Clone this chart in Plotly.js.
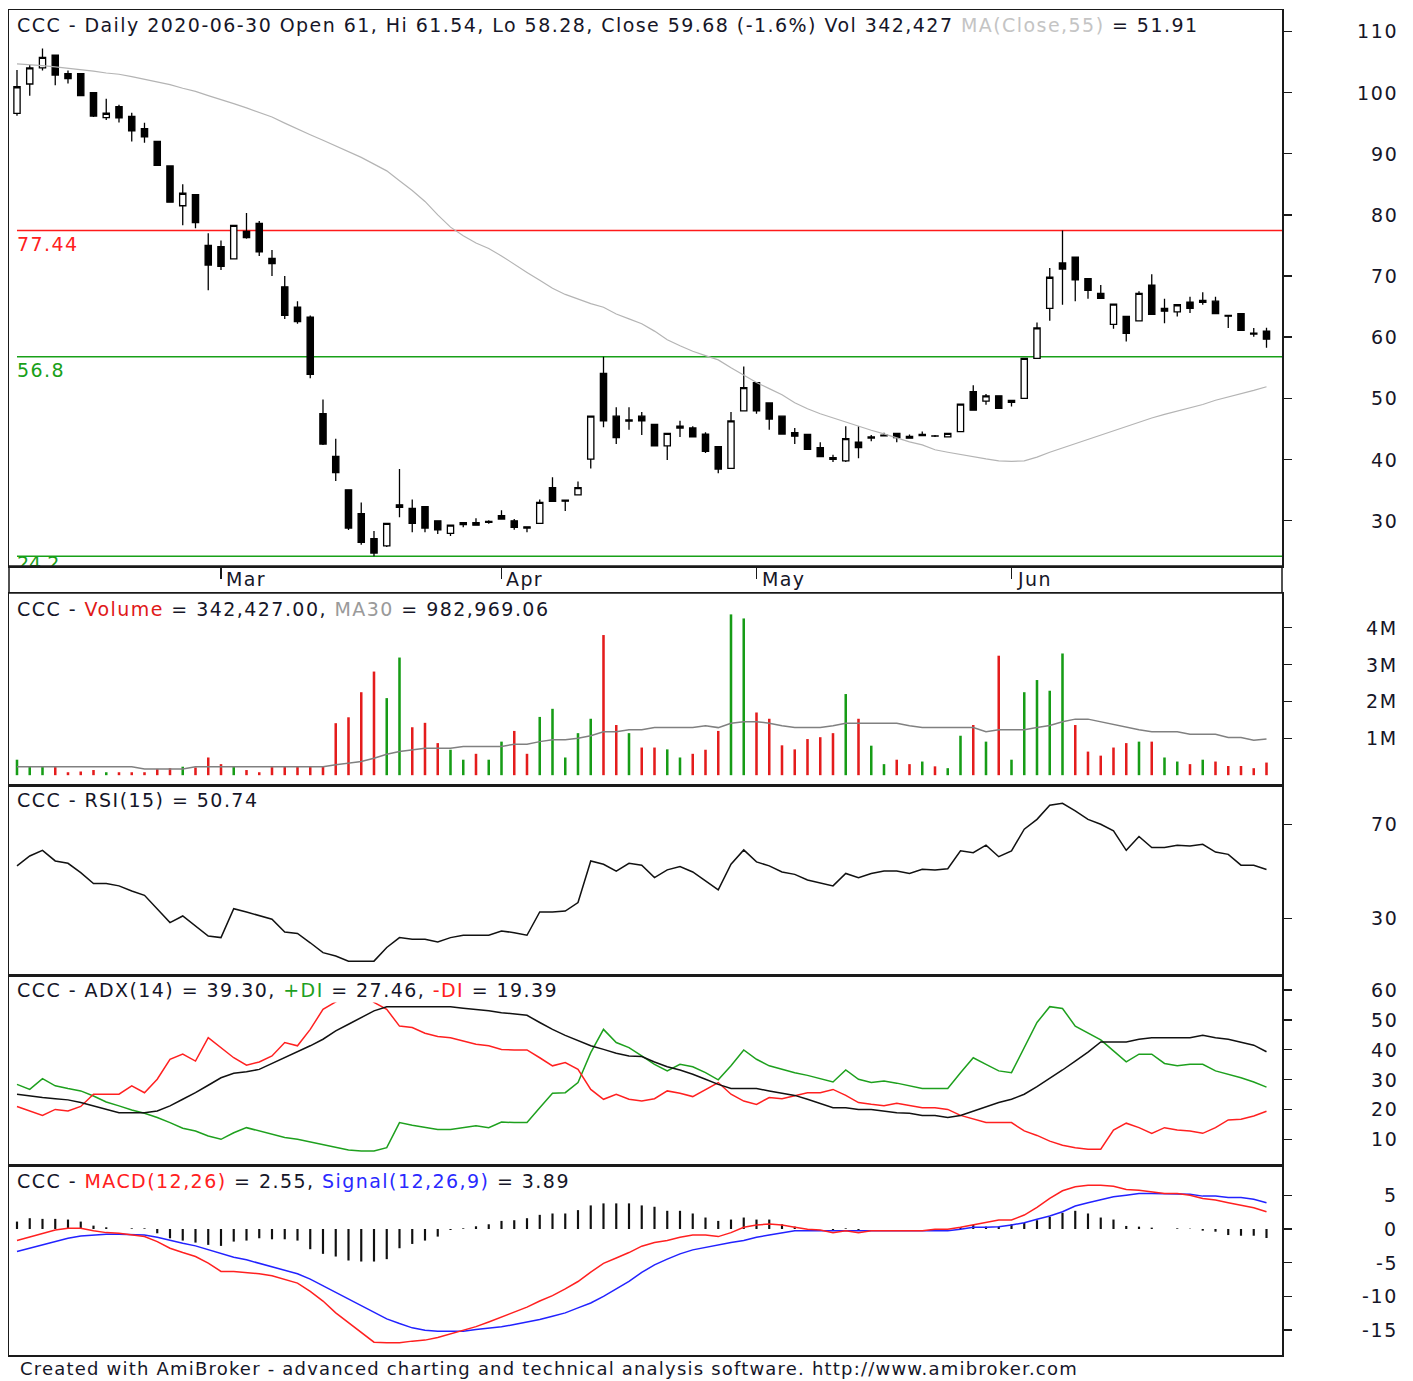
<!DOCTYPE html>
<html><head><meta charset="utf-8">
<script src="https://cdn.plot.ly/plotly-3.0.1.min.js"></script>
<style>html,body{margin:0;padding:0;background:#fff;overflow:hidden}#chart{width:1413px;height:1381px}</style>
</head><body><div id="chart"></div>
<script>
// ---------- DATA ----------
const dates = [
 '2020-02-07','2020-02-10','2020-02-11','2020-02-12','2020-02-13','2020-02-14','2020-02-17','2020-02-18','2020-02-19','2020-02-20',
 '2020-02-21','2020-02-24','2020-02-25','2020-02-26','2020-02-27','2020-02-28','2020-03-02','2020-03-03','2020-03-04','2020-03-05',
 '2020-03-06','2020-03-09','2020-03-10','2020-03-11','2020-03-12','2020-03-13','2020-03-16','2020-03-17','2020-03-18','2020-03-19',
 '2020-03-20','2020-03-23','2020-03-24','2020-03-25','2020-03-26','2020-03-27','2020-03-30','2020-03-31','2020-04-01','2020-04-02',
 '2020-04-03','2020-04-06','2020-04-07','2020-04-08','2020-04-09','2020-04-14','2020-04-15','2020-04-16','2020-04-17','2020-04-20',
 '2020-04-21','2020-04-22','2020-04-23','2020-04-24','2020-04-27','2020-04-28','2020-04-29','2020-04-30','2020-05-04','2020-05-05',
 '2020-05-06','2020-05-07','2020-05-08','2020-05-11','2020-05-12','2020-05-13','2020-05-14','2020-05-15','2020-05-18','2020-05-19',
 '2020-05-20','2020-05-21','2020-05-22','2020-05-25','2020-05-26','2020-05-27','2020-05-28','2020-05-29','2020-06-01','2020-06-02',
 '2020-06-03','2020-06-04','2020-06-05','2020-06-08','2020-06-09','2020-06-10','2020-06-12','2020-06-15','2020-06-16','2020-06-17',
 '2020-06-18','2020-06-19','2020-06-22','2020-06-23','2020-06-24','2020-06-25','2020-06-26','2020-06-29','2020-06-30'];

const open = [96.6,101.4,104.04,106.1,103.1,103.1,100.0,95.9,97.7,96.1,
 94.1,92.0,88.0,81.5,83.3,75.0,74.8,72.8,77.3,78.6,
 72.9,68.24,64.9,63.27,47.5,40.5,35.06,31.14,27.06,25.89,
 32.6,32.02,32.31,29.98,27.94,29.69,29.69,29.75,30.85,29.98,
 29.0,29.57,35.41,33.35,34.24,40.08,54.1,47.09,46.3,47.09,
 45.75,42.24,45.46,45.16,44.17,42.12,38.56,47.97,52.58,49.25,
 47.09,44.4,44.11,41.95,40.32,39.79,42.83,43.7,44.0,44.29,
 43.8,44.11,43.82,43.7,44.58,51.12,49.55,50.42,49.66,50.01,
 56.56,64.73,72.15,73.08,69.58,67.18,62.1,63.39,62.69,68.53,
 64.73,64.15,65.72,66.02,65.9,63.56,63.86,60.5,61];
const high = [103.7,104.5,107.2,106.2,103.6,103.2,100.1,99.0,98.0,96.7,
 95.05,92.1,88.05,85.0,83.4,77.0,75.8,78.3,80.3,79.0,
 74.25,70.0,65.9,63.56,49.84,43.4,35.1,33.0,28.34,29.6,
 38.45,33.48,32.4,30.0,29.3,29.75,30.39,30.1,31.73,30.27,
 29.1,33.48,37.1,33.4,36.4,47.1,56.8,48.55,48.55,47.79,
 45.8,44.3,46.33,45.46,44.46,42.2,47.79,55.21,52.7,49.3,
 47.1,45.16,44.2,42.83,40.78,45.46,45.46,44.0,44.4,44.3,
 44.11,44.58,44.0,44.3,49.1,52.17,50.71,50.5,49.7,56.6,
 62.4,71.33,77.44,73.1,69.6,68.53,65.5,63.4,67.5,70.28,
 66.31,65.35,66.6,67.36,66.6,63.6,63.9,61.52,61.54];
const low = [96.2,99.5,103.6,101.2,101.5,99.4,96.0,95.5,95.1,92.0,
 91.8,88.0,82.0,78.3,77.8,67.7,71.0,72.7,76.1,73.3,
 70.0,63.0,62.2,53.3,42.4,36.5,28.5,26.06,24.2,25.7,
 30.56,28.11,28.11,27.82,27.52,28.93,29.2,29.5,30.2,28.52,
 28.11,29.5,33.1,31.61,34.2,38.56,45.28,42.54,44.87,44.0,
 42.2,39.91,43.7,43.6,41.07,37.75,38.5,47.9,47.5,44.87,
 44.1,42.54,41.6,40.4,39.61,39.61,40.2,43.0,43.8,42.83,
 43.4,43.8,43.7,43.6,44.5,48.0,48.96,48.3,48.67,49.9,
 56.5,62.69,65.31,65.9,66.31,66.3,61.4,59.3,62.6,63.7,
 62.28,63.39,63.97,65.31,63.8,61.52,61.0,60.06,58.28];
const close = [100.95,104.04,105.74,102.87,102.29,99.49,96.16,96.62,95.86,93.76,
 92.77,88.1,82.08,83.54,78.75,71.8,71.6,78.28,76.3,73.96,
 72.03,63.56,62.57,53.93,42.54,37.86,28.81,26.47,24.72,29.57,
 32.2,29.57,28.81,28.52,29.28,29.35,29.28,29.9,30.27,28.9,
 28.8,33.01,33.15,33.2,35.41,47.09,46.33,43.59,46.5,46.33,
 42.24,44.29,45.16,43.7,41.36,38.45,46.33,51.76,47.97,46.62,
 44.17,43.82,41.66,40.49,40.02,43.41,41.95,43.53,43.88,43.59,
 43.5,43.9,43.85,44.29,49.08,48.08,50.42,48.38,49.37,56.56,
 61.52,69.81,71.16,69.4,67.65,66.37,65.43,60.64,67.18,63.74,
 64.26,65.31,64.73,65.72,63.86,63.45,61.11,60.65,59.68];
const ma55 = [104.7,104.6,104.4,104.2,104.0,103.8,103.5,103.2,103.0,102.6,
 102.2,101.8,101.3,100.7,100.2,99.5,98.9,98.2,97.5,96.8,
 96.0,95.0,94.0,93.1,92.2,91.3,90.4,89.4,88.3,87.2,
 85.6,84.0,82.2,80.0,78.0,76.6,75.4,74.5,73.3,71.9,
 70.6,69.3,68.0,67.0,66.2,65.5,64.9,63.8,63.0,62.2,
 61.0,59.6,58.6,57.7,57.0,56.3,55.0,53.8,52.6,51.6,
 50.6,49.3,48.3,47.5,46.8,46.2,45.5,44.8,44.2,43.5,
 42.9,42.4,41.6,41.2,40.8,40.5,40.1,39.8,39.7,39.8,
 40.4,41.2,41.9,42.7,43.4,44.1,44.8,45.5,46.1,46.8,
 47.4,47.9,48.4,49.0,49.7,50.2,50.8,51.3,51.91];
const levels = [77.44, 56.8, 24.2];
const levelLabels = ['77.44', '56.8', '24.2'];

const volume = [420000,230000,230000,220000,80000,100000,140000,80000,80000,80000,
 80000,170000,190000,230000,210000,480000,300000,230000,140000,80000,
 220000,230000,230000,230000,230000,1410000,1570000,2250000,2810000,2090000,
 3190000,1300000,1420000,870000,690000,420000,580000,420000,910000,1200000,
 580000,1580000,1800000,480000,1140000,1530000,3800000,1360000,1140000,750000,
 750000,700000,480000,580000,690000,1200000,4360000,4250000,1700000,1530000,
 810000,700000,980000,1030000,1140000,2200000,1530000,800000,300000,420000,
 300000,370000,240000,190000,1070000,1360000,910000,3240000,420000,2250000,
 2580000,2290000,3300000,1360000,640000,530000,750000,870000,910000,910000,
 480000,370000,300000,420000,370000,250000,250000,190000,342427];
const volMA30 = [230000,230000,230000,230000,230000,230000,230000,230000,230000,230000,
 170000,170000,170000,170000,230000,230000,230000,230000,230000,230000,
 230000,230000,230000,230000,230000,280000,330000,370000,460000,570000,
 640000,690000,730000,730000,730000,780000,780000,780000,780000,840000,
 840000,910000,960000,960000,1000000,1070000,1180000,1180000,1230000,1230000,
 1290000,1290000,1290000,1290000,1340000,1290000,1410000,1450000,1450000,1410000,
 1340000,1290000,1290000,1290000,1340000,1410000,1410000,1410000,1410000,1410000,
 1340000,1290000,1290000,1290000,1290000,1290000,1180000,1230000,1230000,1230000,
 1290000,1350000,1450000,1520000,1520000,1450000,1360000,1290000,1230000,1180000,
 1180000,1180000,1110000,1110000,1110000,1020000,1020000,950000,982969];

const rsi = [52.3,56.5,58.9,54.4,53.4,49.4,44.8,44.8,43.8,41.6,
 39.8,33.8,28.2,31.0,26.7,22.5,21.8,34.1,32.7,31.3,
 29.6,24.2,23.6,19.6,15.4,14.0,11.8,11.8,11.8,17.6,
 21.8,21.1,21.1,19.9,21.8,22.8,22.8,22.8,24.6,23.9,
 22.8,32.7,32.7,33.1,36.7,54.4,53.0,50.1,53.4,52.6,
 47.3,50.6,52.0,49.7,45.9,42.1,53.0,59.1,54.0,52.3,
 49.7,48.7,46.3,44.9,43.8,49.1,47.3,49.1,50.1,50.1,
 49.1,50.9,50.6,51.1,58.7,57.9,61.1,56.2,58.7,67.9,
 72.1,78.1,78.9,75.7,72.1,70.0,67.2,58.9,64.8,60.1,
 60.1,61.1,60.8,61.5,58.2,57.2,52.6,52.6,50.74];

const adx = [25.1,24.5,24.0,23.6,23.2,22.3,21.2,20.0,18.9,18.9,
 18.9,19.5,21.2,23.4,25.6,28.1,30.6,32.1,32.6,33.4,
 35.4,37.3,39.2,41.3,43.5,46.3,48.5,50.7,53.0,54.4,
 54.4,54.4,54.4,54.4,54.4,53.9,53.5,53.0,52.4,51.9,
 51.5,49.1,46.8,44.8,43.1,41.3,40.1,38.8,37.9,37.7,
 35.9,34.3,33.2,31.8,30.1,28.4,27.0,27.0,27.0,26.2,
 25.4,24.7,23.4,22.1,20.6,20.6,20.0,20.0,19.5,18.9,
 18.7,18.0,18.0,17.3,18.0,19.5,20.9,22.3,23.4,25.1,
 27.6,30.3,33.2,36.2,39.2,42.6,42.6,42.6,43.5,44.0,
 44.0,44.0,44.0,44.8,44.0,43.5,42.6,41.5,39.3];
const plusDI = [28.4,26.7,30.3,27.9,27.0,26.2,24.5,22.5,21.2,19.8,
 18.7,17.3,15.6,13.7,12.8,11.1,10.0,12.2,13.9,12.8,
 11.7,10.6,10.0,9.1,8.0,7.2,6.4,6.1,6.1,7.2,
 15.6,14.7,13.9,13.3,13.3,13.9,14.5,13.9,15.8,15.6,
 15.6,20.6,25.4,25.6,29.0,39.0,46.8,42.4,40.7,37.9,
 35.1,32.9,35.1,34.3,32.3,29.9,34.6,39.9,36.8,34.6,
 33.4,32.3,31.4,30.3,29.2,33.2,30.1,29.0,29.5,28.8,
 27.9,27.0,27.0,27.0,32.3,37.3,35.1,32.9,32.3,40.7,
 49.1,54.4,53.8,47.9,45.7,43.3,39.6,35.9,38.5,38.5,
 35.4,34.6,35.1,35.1,32.9,31.8,30.6,29.2,27.46];
const minusDI = [21.0,19.5,18.0,20.0,19.5,21.0,25.1,25.1,25.1,27.9,
 25.6,30.1,36.8,38.5,36.2,44.0,40.7,37.3,34.8,35.9,
 37.9,42.4,41.3,46.8,53.5,56.0,58.5,59.5,55.8,53.5,
 47.9,47.4,45.5,44.4,44.0,42.9,41.8,41.3,40.1,39.9,
 39.9,37.3,34.6,35.7,33.4,26.7,23.4,25.1,23.4,22.8,
 23.6,26.2,25.4,24.3,26.7,29.0,25.1,22.8,21.7,24.0,
 23.6,24.7,25.6,25.6,26.7,24.7,22.3,21.7,21.2,22.1,
 21.4,20.6,20.6,20.0,18.0,16.7,15.6,15.6,15.6,12.8,
 11.3,9.4,8.0,7.2,6.7,6.7,13.1,15.4,13.9,12.0,
 13.9,13.1,12.8,12.0,13.9,16.5,16.7,17.8,19.39];

const macd = [-1.72,-1.23,-0.64,-0.15,0.1,0.1,-0.25,-0.54,-0.64,-0.89,
 -1.13,-1.87,-2.86,-3.5,-4.09,-5.07,-6.3,-6.3,-6.45,-6.65,
 -6.95,-7.54,-8.03,-9.26,-10.7,-12.46,-13.94,-15.42,-16.8,-16.9,
 -16.9,-16.65,-16.5,-16.1,-15.6,-15.0,-14.5,-13.8,-13.1,-12.4,
 -11.6,-10.7,-9.9,-8.9,-7.8,-6.4,-5.1,-4.3,-3.5,-2.55,
 -2.02,-1.72,-1.23,-0.89,-0.89,-1.13,-0.54,0.25,0.59,0.74,
 0.59,0.25,-0.05,-0.15,-0.54,-0.25,-0.54,-0.25,-0.25,-0.25,
 -0.25,-0.25,-0.05,-0.05,0.25,0.59,0.94,1.33,1.33,2.07,
 3.2,4.53,5.67,6.26,6.5,6.5,6.35,5.86,5.76,5.52,
 5.27,5.27,5.02,4.53,4.29,3.89,3.55,3.15,2.55];
const signal = [-3.35,-2.86,-2.36,-1.87,-1.38,-1.03,-0.89,-0.79,-0.79,-0.79,
 -0.89,-1.23,-1.72,-2.12,-2.51,-3.1,-3.69,-4.19,-4.58,-5.07,
 -5.57,-6.06,-6.65,-7.44,-8.42,-9.41,-10.39,-11.48,-12.46,-13.35,
 -14.04,-14.68,-15.02,-15.17,-15.17,-15.17,-14.93,-14.78,-14.53,-14.19,
 -13.84,-13.45,-12.96,-12.46,-11.72,-10.99,-10.0,-8.92,-7.78,-6.45,
 -5.32,-4.48,-3.69,-3.1,-2.71,-2.36,-2.02,-1.72,-1.23,-0.89,
 -0.54,-0.25,-0.25,-0.25,-0.25,-0.25,-0.25,-0.25,-0.25,-0.25,
 -0.25,-0.25,-0.25,-0.25,-0.05,0.25,0.25,0.34,0.59,0.94,
 1.43,1.92,2.56,3.4,3.89,4.29,4.78,5.02,5.27,5.27,
 5.27,5.27,5.17,4.88,4.88,4.68,4.68,4.4,3.89];
const macdHist = [1.1,1.6,1.5,1.5,1.4,1.1,0.5,0.25,0.0,0.1,
 0.1,-0.64,-1.38,-1.72,-2.02,-2.36,-2.51,-1.87,-1.72,-1.38,
 -1.53,-1.53,-1.72,-3.0,-3.69,-4.09,-4.68,-4.83,-4.83,-4.48,
 -2.86,-2.22,-1.72,-1.13,-0.15,0.1,0.4,0.7,1.2,1.3,
 1.6,2.1,2.3,2.3,2.8,3.5,3.8,3.8,3.8,3.5,
 3.3,2.7,2.7,2.3,1.7,1.2,1.4,1.7,1.4,1.4,
 0.7,0.35,0,0,-0.2,0.1,-0.2,0,0,0,
 0,0,0,0,0.3,0.6,0.35,0.35,0.7,0.9,
 1.3,1.8,2.4,2.7,2.3,1.7,1.4,0.45,0.35,0.2,
 0,0.1,0.05,-0.25,-0.4,-0.9,-1.0,-1.0,-1.34];

const monthNames = ['Jan','Feb','Mar','Apr','May','Jun','Jul','Aug','Sep','Oct','Nov','Dec'];
const priceTicks = [30,40,50,60,70,80,90,100,110];
const volTicks = [1000000,2000000,3000000,4000000];
const volTickText = ['1M','2M','3M','4M'];
const rsiTicks = [30,70];
const adxTicks = [10,20,30,40,50,60];
const macdTicks = [-15,-10,-5,0,5];

// ---------- LAYOUT HELPERS ----------
const W = 1413, H = 1381, L = 9, R = 1282, T = 10, B = 1355;
const px = x => (x - L) / (R - L);
const py = y => (B - y) / (B - T);
const dom = (top, bot) => [py(bot), py(top)];
const FONT = 'DejaVu Sans, Verdana, sans-serif';
const FS = 19;
const GREEN = '#169c16', RED = '#e41c1c';
const LINE = '#1a1a1a';
const sp = (t, ls) => '<span style="letter-spacing:' + ls + 'px">' + t + '</span>';
const col = (t, c) => '<span style="color:' + c + '">' + t + '</span>';

const monthStarts = [], monthLabels = [];
dates.forEach((d, i) => {
  if (i > 0 && d.slice(5, 7) !== dates[i - 1].slice(5, 7)) {
    monthStarts.push(d); monthLabels.push(monthNames[parseInt(d.slice(5, 7), 10) - 1]);
  }
});
const volColors = close.map((c, i) => (i === 0 || c >= close[i - 1]) ? GREEN : RED);

const xRange = [-0.627, 99.216];
const baseX = {type: 'category', range: xRange, showgrid: false, zeroline: false, showline: true, mirror: true,
  linecolor: LINE, linewidth: 1.5, fixedrange: true, showticklabels: false};
const baseY = {side: 'right', showgrid: false, zeroline: false, showline: true, mirror: true, linecolor: LINE,
  linewidth: 1.5, ticks: 'outside', ticklen: 8, tickwidth: 1.5, tickcolor: LINE, showticklabels: false, fixedrange: true};

const traces = [
  {type: 'candlestick', x: dates, open: open, high: high, low: low, close: close, xaxis: 'x', yaxis: 'y',
   increasing: {line: {color: '#000', width: 1.3}, fillcolor: '#fff'},
   decreasing: {line: {color: '#000', width: 1.3}, fillcolor: '#000'}, whiskerwidth: 0, hoverinfo: 'skip'},
  {type: 'scatter', mode: 'lines', x: dates, y: ma55, xaxis: 'x', yaxis: 'y', line: {color: '#b4b4b4', width: 1.2}, hoverinfo: 'skip'},
  {type: 'scatter', mode: 'text', x: [dates[0]], y: [levels[2]], text: [levelLabels[2]], textposition: 'bottom right',
   cliponaxis: true, textfont: {family: FONT, size: FS, color: '#18a018'}, xaxis: 'x', yaxis: 'y', hoverinfo: 'skip'},
  {type: 'bar', x: dates, y: volume, marker: {color: volColors, line: {width: 0}}, width: 0.2, xaxis: 'x2', yaxis: 'y2', hoverinfo: 'skip'},
  {type: 'scatter', mode: 'lines', x: dates, y: volMA30, line: {color: '#808080', width: 1.5}, xaxis: 'x2', yaxis: 'y2', hoverinfo: 'skip'},
  {type: 'scatter', mode: 'lines', x: dates, y: rsi, line: {color: '#111', width: 1.5}, xaxis: 'x3', yaxis: 'y3', hoverinfo: 'skip'},
  {type: 'scatter', mode: 'lines', x: dates, y: plusDI, line: {color: '#1ea01e', width: 1.5}, xaxis: 'x4', yaxis: 'y4', hoverinfo: 'skip'},
  {type: 'scatter', mode: 'lines', x: dates, y: minusDI, line: {color: '#ff2020', width: 1.5}, xaxis: 'x4', yaxis: 'y4', hoverinfo: 'skip'},
  {type: 'scatter', mode: 'lines', x: dates, y: adx, line: {color: '#111', width: 1.5}, xaxis: 'x4', yaxis: 'y4', hoverinfo: 'skip'},
  {type: 'bar', x: dates, y: macdHist, marker: {color: '#111', line: {width: 0}}, width: 0.17, xaxis: 'x5', yaxis: 'y5', hoverinfo: 'skip'},
  {type: 'scatter', mode: 'lines', x: dates, y: signal, line: {color: '#2222ff', width: 1.5}, xaxis: 'x5', yaxis: 'y5', hoverinfo: 'skip'},
  {type: 'scatter', mode: 'lines', x: dates, y: macd, line: {color: '#ff2020', width: 1.5}, xaxis: 'x5', yaxis: 'y5', hoverinfo: 'skip'}
];

const shapes = levels.map((v, k) => ({type: 'line', xref: 'x', yref: 'y', x0: 0, x1: xRange[1], y0: v, y1: v,
  line: {color: k === 0 ? '#ff1a1a' : '#18a018', width: 1.5}, layer: 'below'}));
shapes.push({type: 'rect', xref: 'paper', yref: 'paper', x0: 0, x1: 1, y0: py(593), y1: py(566),
  line: {color: LINE, width: 1.5}, fillcolor: 'rgba(0,0,0,0)'});

const ann = [];
const title = (text, yPx) => ann.push({xref: 'paper', yref: 'paper', x: px(15), y: py(yPx), xanchor: 'left', yanchor: 'middle',
  text: sp(text, 1.45), showarrow: false, bgcolor: '#fff', borderpad: 1, font: {family: FONT, size: FS, color: '#161628'}});
const n = close.length - 1;
const pct = ((close[n] / close[n - 1] - 1) * 100).toFixed(1);
const fmtInt = v => Math.round(v).toLocaleString('en-US');
title('CCC - Daily ' + dates[n] + ' Open ' + open[n] + ', Hi ' + high[n] + ', Lo ' + low[n] + ', Close ' + close[n] +
  ' (' + pct + '%) Vol ' + fmtInt(volume[n]) + ' ' + col('MA(Close,55)', '#c4c4c4') + ' = ' + ma55[n].toFixed(2), 25);
title('CCC - ' + col('Volume', '#e01818') + ' = ' + fmtInt(volume[n]) + '.00, ' + col('MA30', '#9a9a9a') + ' = 982,969.06', 609);
title('CCC - RSI(15) = ' + rsi[n].toFixed(2), 800);
title('CCC - ADX(14) = ' + adx[n].toFixed(2) + ', ' + col('+DI', '#1ea01e') + ' = ' + plusDI[n].toFixed(2) +
  ', ' + col('-DI', '#ff2020') + ' = ' + minusDI[n].toFixed(2), 990);
title('CCC - ' + col('MACD(12,26)', '#ff2020') + ' = ' + macd[n].toFixed(2) + ', ' + col('Signal(12,26,9)', '#2a2aff') + ' = ' + signal[n].toFixed(2), 1181);

ann.push({xref: 'paper', yref: 'paper', x: px(18), y: py(1369), xanchor: 'left', yanchor: 'middle', showarrow: false,
  text: sp('Created with AmiBroker - advanced charting and technical analysis software. http://www.amibroker.com', 1.2),
  font: {family: FONT, size: 18, color: '#161628'}});

// level labels (first two; the lowest one is a clipped text trace)
[0, 1].forEach(k => ann.push({xref: 'x', yref: 'y', x: dates[0], y: levels[k], xanchor: 'left', yanchor: 'top', yshift: 0,
  xshift: -2, showarrow: false, text: sp(levelLabels[k], 1.4), font: {family: FONT, size: FS, color: k === 0 ? '#ff2020' : '#18a018'}}));

monthStarts.forEach((d, k) => ann.push({xref: 'x', yref: 'paper', x: d, y: py(579), xanchor: 'left', yanchor: 'middle',
  xshift: 3, showarrow: false, text: sp(monthLabels[k], 1.4), font: {family: FONT, size: FS, color: '#161628'}}));

const rightLabels = (vals, texts, yref) => vals.forEach((v, k) => ann.push({xref: 'paper', yref: yref, x: px(1400), y: v,
  xanchor: 'right', yanchor: 'middle', showarrow: false, text: sp(texts[k], 1.6), font: {family: FONT, size: FS, color: '#161628'}}));
rightLabels(priceTicks, priceTicks.map(String), 'y');
rightLabels(volTicks, volTickText, 'y2');
rightLabels(rsiTicks, rsiTicks.map(String), 'y3');
rightLabels(adxTicks, adxTicks.map(String), 'y4');
rightLabels(macdTicks, macdTicks.map(String), 'y5');

const layout = {
  width: W, height: H, margin: {l: L, r: W - R, t: T, b: H - B}, paper_bgcolor: '#fff', plot_bgcolor: '#fff',
  showlegend: false, hovermode: false, dragmode: false,
  xaxis: Object.assign({}, baseX, {anchor: 'y', ticks: 'outside', ticklen: 11, tickwidth: 1.5, tickcolor: LINE,
    tickvals: monthStarts, rangeslider: {visible: false}}),
  xaxis2: Object.assign({}, baseX, {anchor: 'y2', matches: 'x'}),
  xaxis3: Object.assign({}, baseX, {anchor: 'y3', matches: 'x'}),
  xaxis4: Object.assign({}, baseX, {anchor: 'y4', matches: 'x'}),
  xaxis5: Object.assign({}, baseX, {anchor: 'y5', matches: 'x'}),
  yaxis: Object.assign({}, baseY, {anchor: 'x', domain: dom(10, 566), range: [22.6, 113.5], tickvals: priceTicks}),
  yaxis2: Object.assign({}, baseY, {anchor: 'x2', domain: dom(593, 785), range: [-266000, 4940000], tickvals: volTicks}),
  yaxis3: Object.assign({}, baseY, {anchor: 'x3', domain: dom(785, 975), range: [5.9, 86.7], tickvals: rsiTicks}),
  yaxis4: Object.assign({}, baseY, {anchor: 'x4', domain: dom(975, 1165), range: [1.4, 65.0], tickvals: adxTicks}),
  yaxis5: Object.assign({}, baseY, {anchor: 'x5', domain: dom(1165, 1355), range: [-18.71, 9.5], tickvals: macdTicks}),
  shapes: shapes, annotations: ann
};

Plotly.newPlot('chart', traces, layout, {displayModeBar: false, staticPlot: true});
</script>
</body></html>
